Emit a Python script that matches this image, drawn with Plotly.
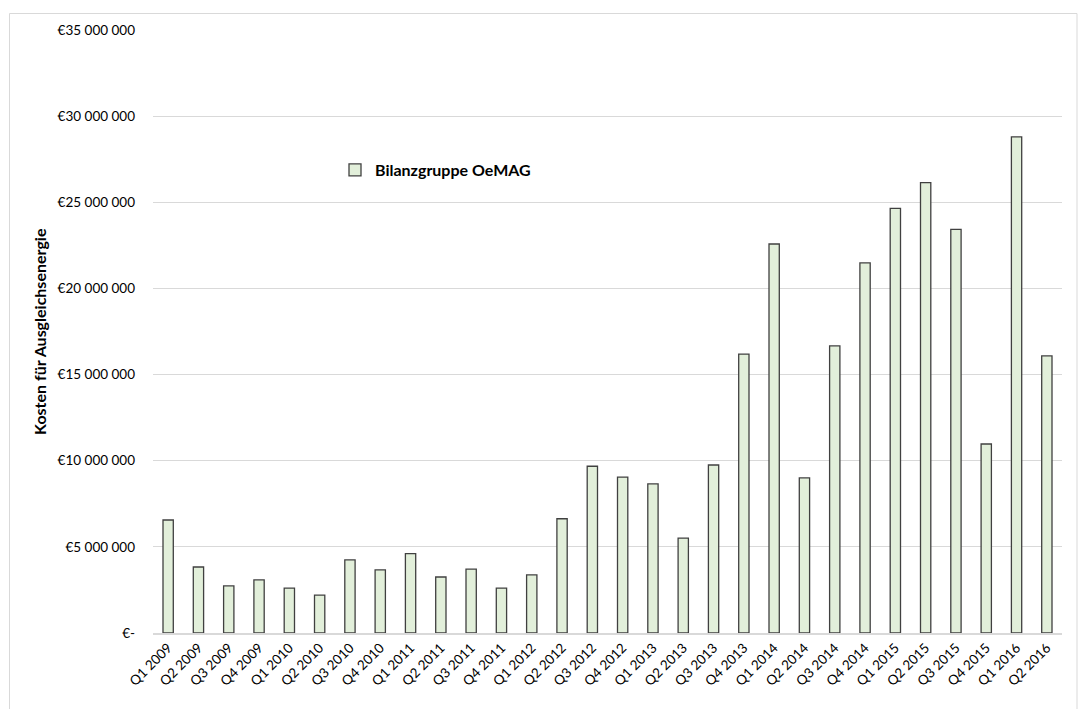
import plotly.graph_objects as go

quarters = ["Q1 2009", "Q2 2009", "Q3 2009", "Q4 2009",
            "Q1 2010", "Q2 2010", "Q3 2010", "Q4 2010",
            "Q1 2011", "Q2 2011", "Q3 2011", "Q4 2011",
            "Q1 2012", "Q2 2012", "Q3 2012", "Q4 2012",
            "Q1 2013", "Q2 2013", "Q3 2013", "Q4 2013",
            "Q1 2014", "Q2 2014", "Q3 2014", "Q4 2014",
            "Q1 2015", "Q2 2015", "Q3 2015", "Q4 2015",
            "Q1 2016", "Q2 2016"]
costs = [6560000, 3830000, 2730000, 3080000,
         2610000, 2200000, 4240000, 3660000,
         4610000, 3250000, 3710000, 2610000,
         3370000, 6630000, 9680000, 9050000,
         8650000, 5510000, 9750000, 16190000,
         22580000, 9000000, 16660000, 21480000,
         24650000, 26140000, 23430000, 10970000,
         28800000, 16080000]
series_name = "Bilanzgruppe OeMAG"
y_tickvals = [0, 5000000, 10000000, 15000000, 20000000, 25000000, 30000000, 35000000]
y_ticktext = ["€-", "€5 000 000", "€10 000 000", "€15 000 000", "€20 000 000",
              "€25 000 000", "€30 000 000", "€35 000 000"]
y_title = "Kosten für Ausgleichsenergie"

FONT = "Lato"
W, H = 1078, 709
L, R, T, B = 153, 16, 30, 76
pw, ph = W - L - R, H - T - B

def px_x(x):
    return (x - L) / pw

def px_y(y):
    return (H - B - y) / ph

fig = go.Figure()
fig.add_trace(go.Bar(
    x=quarters, y=costs, name=series_name,
    marker=dict(color="#E2EFDA", line=dict(color="#404040", width=1.3)),
    showlegend=True,
))

fig.update_layout(
    width=W, height=H,
    margin=dict(l=L, r=R, t=T, b=B, autoexpand=False),
    paper_bgcolor="white", plot_bgcolor="white",
    font=dict(family=FONT, size=13.5, color="#000000"),
    bargap=0.66,
    showlegend=True,
    legend=dict(x=px_x(335), y=px_y(170), xanchor="left", yanchor="middle",
                font=dict(family=FONT, size=16, color="#000000", weight="bold"),
                bgcolor="rgba(0,0,0,0)", itemwidth=30),
    xaxis=dict(type="category", tickangle=-45, showgrid=False, ticks="",
               showline=True, linecolor="#D9D9D9", linewidth=1.5,
               tickfont=dict(family=FONT, size=13.5, color="#000000")),
    yaxis=dict(range=[0, 35000000], tickvals=y_tickvals, ticktext=y_ticktext,
               showgrid=True, gridcolor="#D9D9D9", gridwidth=1, zeroline=False,
               showline=False, ticks="", ticklabelstandoff=17,
               tickfont=dict(family=FONT, size=13.5, color="#000000")),
)

fig.add_annotation(
    text=y_title, xref="paper", yref="paper",
    x=px_x(40), y=px_y(332), xanchor="center", yanchor="middle",
    textangle=-90, showarrow=False,
    font=dict(family=FONT, size=16, color="#000000", weight="bold"),
)

fig.add_shape(
    type="rect", xref="paper", yref="paper",
    x0=px_x(9.5), x1=px_x(1077), y0=px_y(720), y1=px_y(13.5),
    line=dict(color="#D9D9D9", width=1), fillcolor="rgba(0,0,0,0)", layer="below",
)

fig.write_html("out.html")
